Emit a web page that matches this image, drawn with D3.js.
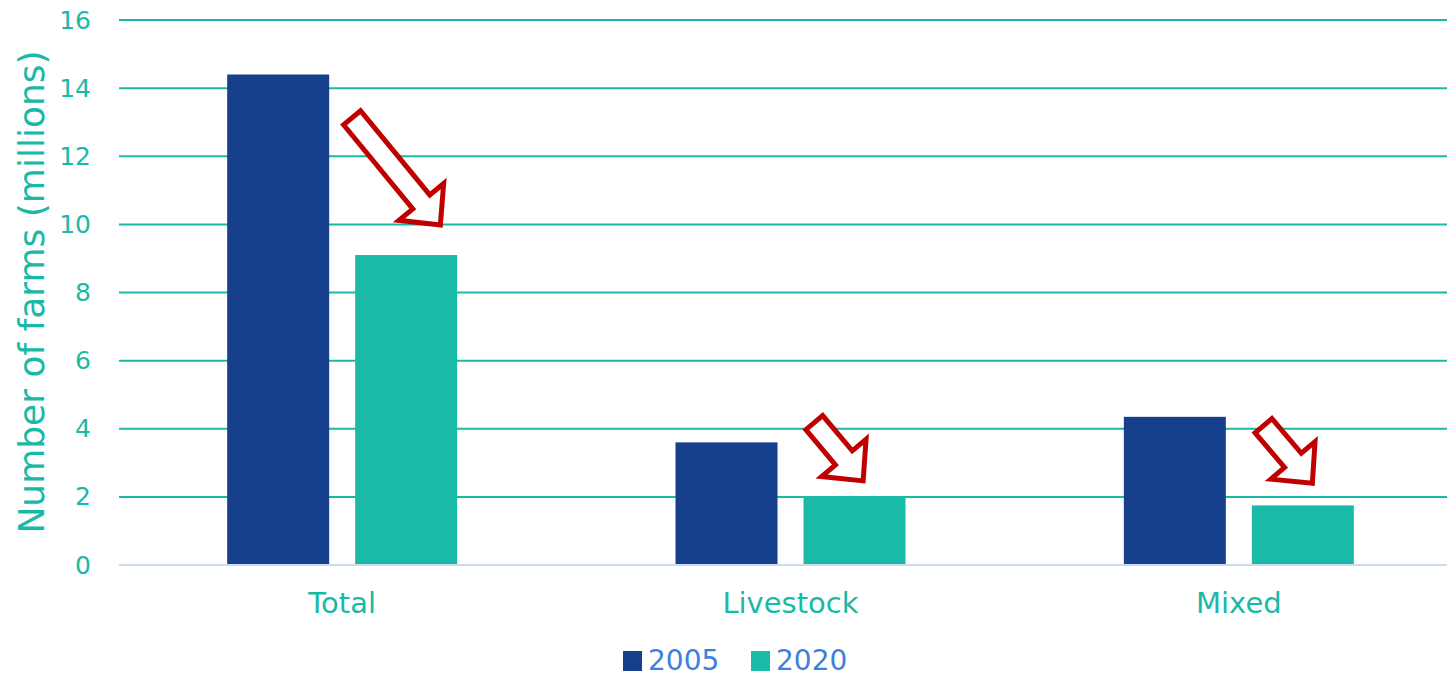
<!DOCTYPE html>
<html>
<head>
<meta charset="utf-8">
<script src="https://cdn.jsdelivr.net/npm/d3@7"></script>
<style>
  body { margin: 0; background: #fff; }
  svg { display: block; font-family: 'DejaVu Sans', 'Open Sans', sans-serif; }
  .eje text { fill: #1ab9a7; font-family: 'DejaVu Sans', sans-serif; }
</style>
</head>
<body>
<div id="graf"></div>
<script>
// datos
categorias = ['Total', 'Livestock', 'Mixed']
series = ['2005', '2020']
valores2005 = [14.4, 3.6, 4.35]
valores2020 = [9.1, 2.0, 1.75]
ticksY = [0, 2, 4, 6, 8, 10, 12, 14, 16]
// flechas: [inicio x (fracción de banda), inicio y, fin x, fin y]
flechas = [
  [0.522, 13.13, 0.719, 9.98],
  [0.553, 4.18, 0.662, 2.47],
  [0.555, 4.09, 0.664, 2.40]
]

colores = { '2005': '#16408c', '2020': '#1abaa8' }

ancho_total = 1447
alto_total = 677

svg = d3.select('#graf').append('svg')
        .attr('width', ancho_total)
        .attr('height', alto_total)

y = d3.scaleLinear().domain([0, 16]).range([565, 20])

x0 = d3.scaleBand()
       .domain(categorias)
       .range([118, 1463])
       .paddingInner(0.487)
       .paddingOuter(0.2435)

x1 = d3.scaleBand()
       .domain(series)
       .range([0, x0.bandwidth()])
       .paddingInner(0.203)

// rejilla
grid = svg.append('g')
grid.selectAll('line')
    .data(ticksY.filter(d => d > 0))
    .enter().append('line')
      .attr('x1', 119)
      .attr('x2', ancho_total)
      .attr('y1', d => y(d))
      .attr('y2', d => y(d))
      .attr('stroke', '#1ab9a7')
      .attr('stroke-width', 2)

// barras
datos = []
categorias.forEach((c, i) => {
  datos.push({ cat: c, serie: '2005', v: valores2005[i] })
  datos.push({ cat: c, serie: '2020', v: valores2020[i] })
})

svg.append('g').selectAll('rect')
   .data(datos)
   .enter().append('rect')
     .attr('x', d => x0(d.cat) + x1(d.serie))
     .attr('y', d => y(d.v))
     .attr('width', x1.bandwidth())
     .attr('height', d => y(0) - y(d.v))
     .attr('fill', d => colores[d.serie])

// línea base
svg.append('line')
   .attr('x1', 119).attr('x2', ancho_total)
   .attr('y1', y(0)).attr('y2', y(0))
   .attr('stroke', '#cddcf2')
   .attr('stroke-width', 2)

// eje y
yAxis = svg.append('g')
           .attr('class', 'eje')
           .attr('transform', 'translate(91, 0)')
           .call(d3.axisLeft(y).tickValues(ticksY).tickSize(0).tickPadding(0))
yAxis.select('.domain').remove()
yAxis.selectAll('text')
     .style('font-size', '25px')

// eje x
xAxis = svg.append('g')
           .attr('class', 'eje')
           .attr('transform', `translate(0, ${y(0)})`)
           .call(d3.axisBottom(x0).tickSize(0).tickPadding(27))
xAxis.select('.domain').remove()
xAxis.selectAll('text')
     .style('font-size', '29px')

// título eje y
svg.append('text')
   .attr('transform', `translate(44, 292) rotate(-90)`)
   .attr('text-anchor', 'middle')
   .attr('fill', '#1ab9a7')
   .style('font-size', '36px')
   .text('Number of farms (millions)')

// flechas
function flecha(x1p, y1p, x2p, y2p) {
  dx = x2p - x1p
  dy = y2p - y1p
  L = Math.hypot(dx, dy)
  ux = dx / L; uy = dy / L
  px = -uy; py = ux
  sw = 11, hw = 29, hl = 30
  bx = x2p - ux * hl, by = y2p - uy * hl
  pts = [
    [x1p + px * sw, y1p + py * sw],
    [bx + px * sw, by + py * sw],
    [bx + px * hw, by + py * hw],
    [x2p, y2p],
    [bx - px * hw, by - py * hw],
    [bx - px * sw, by - py * sw],
    [x1p - px * sw, y1p - py * sw]
  ]
  return 'M' + pts.map(p => p.join(',')).join('L') + 'Z'
}

svg.append('g').selectAll('path')
   .data(flechas)
   .enter().append('path')
     .attr('d', (d, i) => {
       b = x0(categorias[i]) - x0.step() * x0.paddingOuter()
       return flecha(b + d[0] * x0.step(), y(d[1]), b + d[2] * x0.step(), y(d[3]))
     })
     .attr('fill', '#fff')
     .attr('stroke', '#c00000')
     .attr('stroke-width', 5)
     .attr('stroke-linejoin', 'miter')

// leyenda
leyenda = svg.append('g')
             .attr('transform', 'translate(623, 651)')
leyendaX = d3.scalePoint().domain(series).range([0, 128])
items = leyenda.selectAll('g')
               .data(series)
               .enter().append('g')
                 .attr('transform', d => `translate(${leyendaX(d)}, 0)`)
items.append('rect')
     .attr('width', 19).attr('height', 20)
     .attr('fill', d => colores[d])
items.append('text')
     .attr('x', 25).attr('y', 19)
     .attr('fill', '#3c7fe0')
     .style('font-size', '28px')
     .text(d => d)
</script>
</body>
</html>
